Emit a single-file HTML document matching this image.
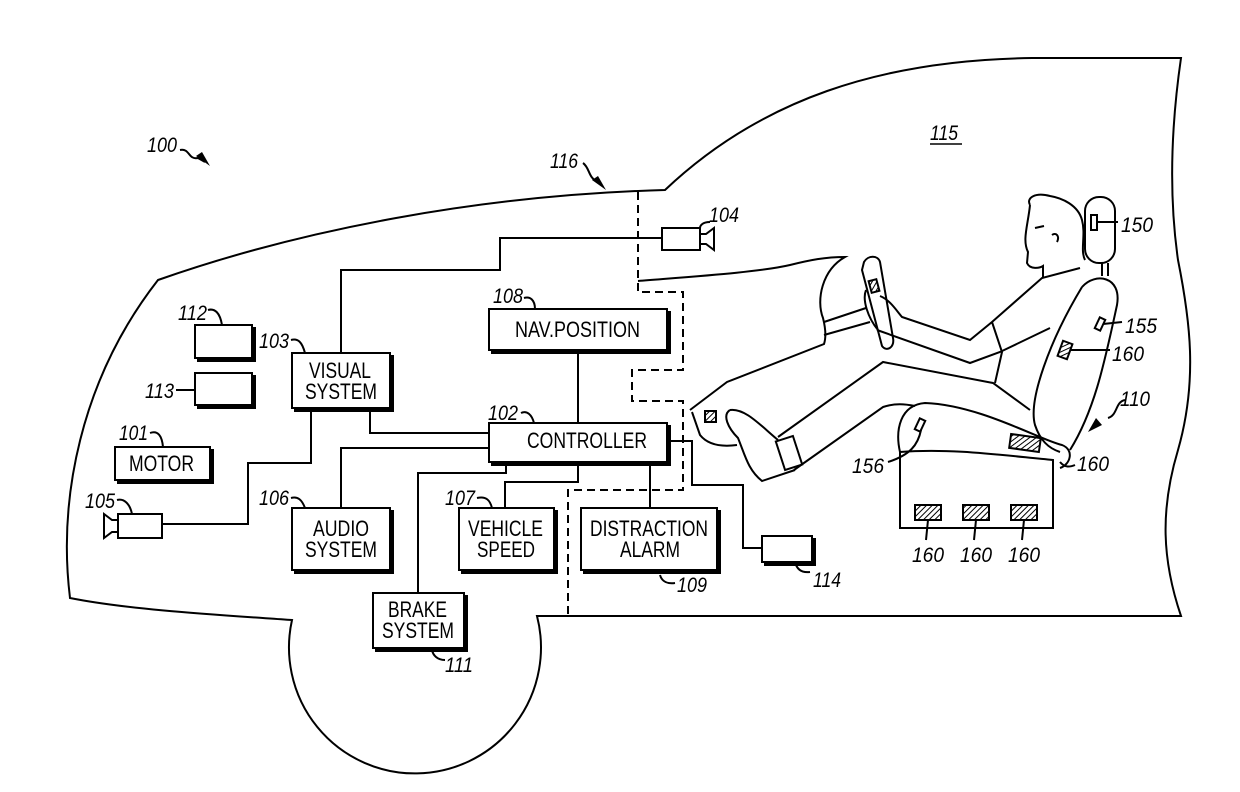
<!DOCTYPE html>
<html><head><meta charset="utf-8"><style>
html,body{margin:0;padding:0;background:#fff}
svg{display:block}
.b{font-family:"Liberation Sans",sans-serif;font-size:22px;fill:#000}
.n{font-family:"Liberation Sans",sans-serif;font-size:21px;font-style:italic;fill:#000}
</style></head><body>
<svg width="1240" height="792" viewBox="0 0 1240 792" xmlns="http://www.w3.org/2000/svg">
<defs>
<pattern id="h" width="4" height="4" patternUnits="userSpaceOnUse" patternTransform="rotate(45)">
<rect width="4" height="4" fill="#fff"/><line x1="0" y1="0" x2="0" y2="4" stroke="#000" stroke-width="2"/>
</pattern>
</defs>
<g fill="none" stroke="#000" stroke-width="2">
<path d="M665,190 C760,100 880,60 1032,58 L1181,58 C1172,120 1168,190 1178,260 C1190,320 1198,380 1178,450 C1160,510 1162,560 1181,616 L537,616 A126,126 0 1 1 292,620 C220,615 130,610 70,598 C58,500 80,380 158,280 C300,230 480,195 665,190 Z"/>
<path d="M638,192 L638,292 L683,292 L683,370 L632,370 L632,401 L683,401 L683,490 L568,490 L568,615" stroke-dasharray="8,5"/>
<path d="M638,281 C700,276 760,272 790,265 C810,260 825,257 845,257 C822,270 816,300 823,318 C826,330 826,338 824,344 L727,382 L690,410"/>
<path d="M824,322 L866,308 M824,335 L870,322"/>
<path d="M864,262 C868,255 878,255 880,262 L893,338 C895,348 886,352 882,346 L862,270 Z"/>
<rect x="870" y="280" width="8" height="12" fill="url(#h)" transform="rotate(-15 874 286)"/>
<path d="M866,290 C862,300 868,318 878,330 M880,296 C890,300 896,310 902,317 L970,340 L992,322 L1042,278 L1080,268"/>
<path d="M877,330 L970,363 L1000,352 L1050,328"/>
<path d="M992,322 L1002,352 L995,383"/>
<path d="M1030,205 C1028,225 1022,240 1028,252 L1027,263 C1030,270 1040,268 1043,266 L1043,278"/>
<path d="M1030,205 C1026,198 1035,192 1050,196 C1062,198 1078,205 1082,220 C1086,235 1080,250 1085,260"/>
<path d="M1035,228 L1044,226 M1052,235 C1056,232 1060,236 1057,242"/>
<rect x="1085" y="197" width="30" height="66" rx="14"/>
<rect x="1091" y="215" width="6" height="15"/>
<path d="M1102,263 L1102,276 M1108,263 L1108,276"/>
<path d="M1082,287 C1095,272 1122,276 1117,305 C1105,360 1095,410 1070,450"/>
<path d="M1082,287 C1050,340 1028,400 1035,425 C1040,440 1048,448 1060,452"/>
<rect x="1060" y="342" width="10" height="16" fill="url(#h)" transform="rotate(20 1065 350)"/>
<rect x="1097" y="318" width="6" height="12" transform="rotate(25 1100 324)"/>
<path d="M900,452 C895,430 900,405 925,403 C980,405 1040,440 1062,445 C1075,450 1070,465 1060,468"/>
<path d="M900,452 C950,448 1000,455 1053,460 L1053,528 L900,528 Z"/>
<rect x="1010" y="436" width="30" height="14" fill="url(#h)" transform="rotate(8 1025 443)"/>
<rect x="915" y="505" width="26" height="15" fill="url(#h)"/>
<rect x="963" y="505" width="26" height="15" fill="url(#h)"/>
<rect x="1011" y="505" width="26" height="15" fill="url(#h)"/>
<rect x="917" y="419" width="6" height="12" transform="rotate(25 920 425)"/>
<!-- legs -->
<path d="M778,437 L883,362 L993,383 L1030,410"/>
<path d="M794,470 L883,407 C895,403 905,404 915,406"/>
<rect x="780" y="438" width="18" height="30" transform="rotate(-18 789 453)"/>
<path d="M730,410 C745,408 760,425 778,440"/>
<path d="M730,410 C722,415 728,428 738,438 C745,455 748,470 762,481 L795,470"/>
<path d="M692,412 L700,435 C708,445 722,447 737,445"/>
<rect x="705" y="411" width="11" height="11" fill="url(#h)"/>
</g>
<g fill="#fff" stroke="#000" stroke-width="2">
<rect x="295" y="356" width="98" height="55" fill="#000"/><rect x="292" y="353" width="98" height="55"/>
<rect x="492" y="312" width="178" height="41" fill="#000"/><rect x="489" y="309" width="178" height="41"/>
<rect x="492" y="426" width="178" height="39" fill="#000"/><rect x="489" y="423" width="178" height="39"/>
<rect x="295" y="511" width="98" height="62" fill="#000"/><rect x="292" y="508" width="98" height="62"/>
<rect x="462" y="511" width="95" height="62" fill="#000"/><rect x="459" y="508" width="95" height="62"/>
<rect x="584" y="511" width="136" height="62" fill="#000"/><rect x="581" y="508" width="136" height="62"/>
<rect x="376" y="596" width="91" height="55" fill="#000"/><rect x="373" y="593" width="91" height="55"/>
<rect x="118" y="450" width="95" height="33" fill="#000"/><rect x="115" y="447" width="95" height="33"/>
<rect x="198" y="328" width="57" height="33" fill="#000"/><rect x="195" y="325" width="57" height="33"/>
<rect x="198" y="376" width="57" height="32" fill="#000"/><rect x="195" y="373" width="57" height="32"/>
<rect x="765" y="539" width="50" height="26" fill="#000"/><rect x="762" y="536" width="50" height="26"/>
<rect x="118" y="514" width="44" height="24"/>
<path d="M118,520 L112,520 L104,514 L104,538 L112,532 L118,532 Z"/>
<rect x="662" y="228" width="38" height="22"/>
<path d="M700,234 L706,234 L714,228 L714,250 L706,244 L700,244 Z"/>
</g>
<g fill="none" stroke="#000" stroke-width="2">
<path d="M341,353 L341,270 L500,270 L500,238 L662,238"/>
<path d="M370,408 L370,433 L489,433"/>
<path d="M311,408 L311,463 L248,463 L248,524 L162,524"/>
<path d="M341,508 L341,448 L489,448"/>
<path d="M418,593 L418,473 L506,473 L506,462"/>
<path d="M505,508 L505,482 L578,482 L578,462"/>
<path d="M578,350 L578,423"/>
<path d="M650,462 L650,508"/>
<path d="M667,441 L692,441 L692,485 L743,485 L743,548 L762,548"/>
<path d="M180,150 C190,148 188,160 198,158 L205,162"/>
<path d="M583,163 C590,168 588,178 598,182"/>
<path d="M710,222 C702,222 700,226 700,228"/>
<path d="M524,298 C530,296 535,300 535,309"/>
<path d="M291,340 C298,338 302,342 305,353"/>
<path d="M521,413 C527,410 532,415 534,423"/>
<path d="M291,498 C298,496 302,500 305,508"/>
<path d="M477,498 C486,496 490,500 492,508"/>
<path d="M660,575 C662,582 668,584 675,583"/>
<path d="M432,650 C433,655 437,660 445,660"/>
<path d="M795,562 C797,570 802,573 810,572"/>
<path d="M208,310 C215,308 220,313 222,325"/>
<path d="M176,390 L195,390"/>
<path d="M150,433 C158,430 162,436 163,447"/>
<path d="M117,500 C124,498 130,504 132,514"/>
<path d="M1097,222 L1118,222"/>
<path d="M1103,324 L1122,322"/>
<path d="M1070,350 L1110,350"/>
<path d="M1125,400 C1115,402 1118,415 1108,418"/>
<path d="M921,430 C918,445 910,455 888,462"/>
<path d="M1060,462 C1065,468 1070,467 1075,465"/>
<path d="M928,520 L926,540 M976,520 L974,540 M1024,520 L1022,540"/>
</g>
<path d="M210,166 L196,156 L202,152 Z" fill="#000"/>
<path d="M606,190 L592,180 L598,176 Z" fill="#000"/>
<path d="M1088,432 L1096,418 L1102,425 Z" fill="#000"/>
<g class="b" font-size="22">
<text class="b" x="309" y="378" textLength="62" lengthAdjust="spacingAndGlyphs">VISUAL</text>
<text class="b" x="305" y="399" textLength="72" lengthAdjust="spacingAndGlyphs">SYSTEM</text>
<text class="b" x="515" y="337" textLength="125" lengthAdjust="spacingAndGlyphs">NAV.POSITION</text>
<text class="b" x="527" y="448" textLength="120" lengthAdjust="spacingAndGlyphs">CONTROLLER</text>
<text class="b" x="313" y="536" textLength="56" lengthAdjust="spacingAndGlyphs">AUDIO</text>
<text class="b" x="305" y="557" textLength="72" lengthAdjust="spacingAndGlyphs">SYSTEM</text>
<text class="b" x="468" y="536" textLength="75" lengthAdjust="spacingAndGlyphs">VEHICLE</text>
<text class="b" x="477" y="557" textLength="58" lengthAdjust="spacingAndGlyphs">SPEED</text>
<text class="b" x="590" y="536" textLength="118" lengthAdjust="spacingAndGlyphs">DISTRACTION</text>
<text class="b" x="620" y="557" textLength="60" lengthAdjust="spacingAndGlyphs">ALARM</text>
<text class="b" x="388" y="617" textLength="59" lengthAdjust="spacingAndGlyphs">BRAKE</text>
<text class="b" x="382" y="638" textLength="72" lengthAdjust="spacingAndGlyphs">SYSTEM</text>
<text class="b" x="129" y="471" textLength="65" lengthAdjust="spacingAndGlyphs">MOTOR</text>
</g>
<g>
<text class="n" x="147" y="152" textLength="30" lengthAdjust="spacingAndGlyphs">100</text>
<text class="n" x="550" y="168" textLength="28" lengthAdjust="spacingAndGlyphs">116</text>
<text class="n" x="930" y="140" textLength="28" lengthAdjust="spacingAndGlyphs">115</text>
<text class="n" x="709" y="222" textLength="30" lengthAdjust="spacingAndGlyphs">104</text>
<text class="n" x="493" y="303" textLength="30" lengthAdjust="spacingAndGlyphs">108</text>
<text class="n" x="259" y="348" textLength="30" lengthAdjust="spacingAndGlyphs">103</text>
<text class="n" x="488" y="420" textLength="30" lengthAdjust="spacingAndGlyphs">102</text>
<text class="n" x="259" y="505" textLength="30" lengthAdjust="spacingAndGlyphs">106</text>
<text class="n" x="445" y="505" textLength="30" lengthAdjust="spacingAndGlyphs">107</text>
<text class="n" x="677" y="592" textLength="30" lengthAdjust="spacingAndGlyphs">109</text>
<text class="n" x="445" y="672" textLength="28" lengthAdjust="spacingAndGlyphs">111</text>
<text class="n" x="813" y="587" textLength="28" lengthAdjust="spacingAndGlyphs">114</text>
<text class="n" x="178" y="320" textLength="29" lengthAdjust="spacingAndGlyphs">112</text>
<text class="n" x="145" y="398" textLength="29" lengthAdjust="spacingAndGlyphs">113</text>
<text class="n" x="119" y="440" textLength="29" lengthAdjust="spacingAndGlyphs">101</text>
<text class="n" x="85" y="508" textLength="30" lengthAdjust="spacingAndGlyphs">105</text>
<text class="n" x="1121" y="232" textLength="32" lengthAdjust="spacingAndGlyphs">150</text>
<text class="n" x="1125" y="333" textLength="32" lengthAdjust="spacingAndGlyphs">155</text>
<text class="n" x="1112" y="361" textLength="32" lengthAdjust="spacingAndGlyphs">160</text>
<text class="n" x="1120" y="406" textLength="30" lengthAdjust="spacingAndGlyphs">110</text>
<text class="n" x="852" y="473" textLength="32" lengthAdjust="spacingAndGlyphs">156</text>
<text class="n" x="1077" y="471" textLength="32" lengthAdjust="spacingAndGlyphs">160</text>
<text class="n" x="912" y="562" textLength="32" lengthAdjust="spacingAndGlyphs">160</text>
<text class="n" x="960" y="562" textLength="32" lengthAdjust="spacingAndGlyphs">160</text>
<text class="n" x="1008" y="562" textLength="32" lengthAdjust="spacingAndGlyphs">160</text>
</g>
<path d="M930,144 L962,144" stroke="#000" stroke-width="1.5"/>
</svg>
</body></html>
